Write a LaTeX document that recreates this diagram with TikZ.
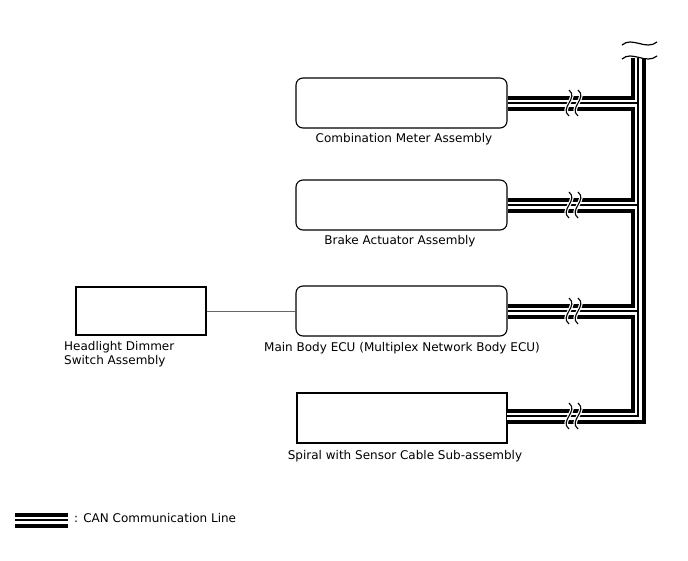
\documentclass[tikz,border=0pt]{standalone}
\usepackage{fontspec}
\setmainfont{DejaVu Sans}
\begin{document}
\begin{tikzpicture}[x=1pt,y=-1pt,
  unitbox/.style={draw=black, line width=1.1pt, fill=white, minimum width=211pt, minimum height=50pt, inner sep=0pt},
  lbl/.style={font=\fontsize{12}{14}\selectfont, inner sep=0pt},
  canA/.style={draw=black, line width=15pt, line join=miter},
  canB/.style={draw=white, line width=7pt, line join=miter},
  canC/.style={draw=black, line width=1.5pt, line join=miter},
  brkw/.style={draw=white, line width=3.5pt},
  brk/.style={draw=black, line width=1.1pt}]
\useasboundingbox (0,0) rectangle (688,560);

% units
\node[unitbox, rounded corners=7pt] (cm) at (401.5,103) {};
\node[unitbox, rounded corners=7pt] (ba) at (401.5,205) {};
\node[unitbox, rounded corners=7pt] (ecu) at (401.5,311) {};
\node[unitbox, minimum width=210pt] (sp) at (402,418) {};
\node[unitbox, minimum width=130pt, minimum height=48pt] (hd) at (141,311) {};

\node[lbl] (cml) at (404,139) {Combination Meter Assembly};
\node[lbl] (bal) at (400,241) {Brake Actuator Assembly};
\node[lbl] (ecul) at (402,348) {Main Body ECU (Multiplex Network Body ECU)};
\node[lbl] (spl) at (405,456) {Spiral with Sensor Cable Sub-assembly};
\node[lbl, align=left, anchor=west] (hdl) at (64,354) {Headlight Dimmer\\Switch Assembly};

% plain wire
\draw[draw=black!60, line width=1pt] (hd.east) -- (ecu.west);

% bus coordinates
\coordinate (j1) at (638,103);
\coordinate (j2) at (638,205);
\coordinate (j3) at (638,311);
\coordinate (j4) at (638,416);
\coordinate (top) at (638,57);
\coordinate (sp1) at (507,416);
\coordinate (lg1) at (15,520);
\coordinate (lg2) at (68,520);

\foreach \s in {canA,canB,canC}{
  \path[\s] (cm.east) -- (j1);
  \path[\s] (ba.east) -- (j2);
  \path[\s] (ecu.east) -- (j3);
  \path[\s] (sp1) -- (j4) -- (top);
  \path[\s] (lg1) -- (lg2);
}

% break marks
\foreach \yy in {103,205,311,416}{
  \foreach \xx in {569,578}{
    \path[brkw] (\xx,\yy-13) .. controls (\xx+10,\yy-5) and (\xx-10,\yy+5) .. (\xx,\yy+13);
    \path[brk] (\xx,\yy-13) .. controls (\xx+10,\yy-5) and (\xx-10,\yy+5) .. (\xx,\yy+13);
  }
}

% top break of bus
\fill[white] (620,50) rectangle (660,58);
\draw[black, line width=1.2pt] (622,45) .. controls (632,36) and (646,51) .. (657,42);
\draw[black, line width=1.2pt] (622,59) .. controls (632,50) and (646,65) .. (657,56);

\node[lbl, anchor=west] (lgt) at (74,518) {: CAN Communication Line};
\end{tikzpicture}
\end{document}
